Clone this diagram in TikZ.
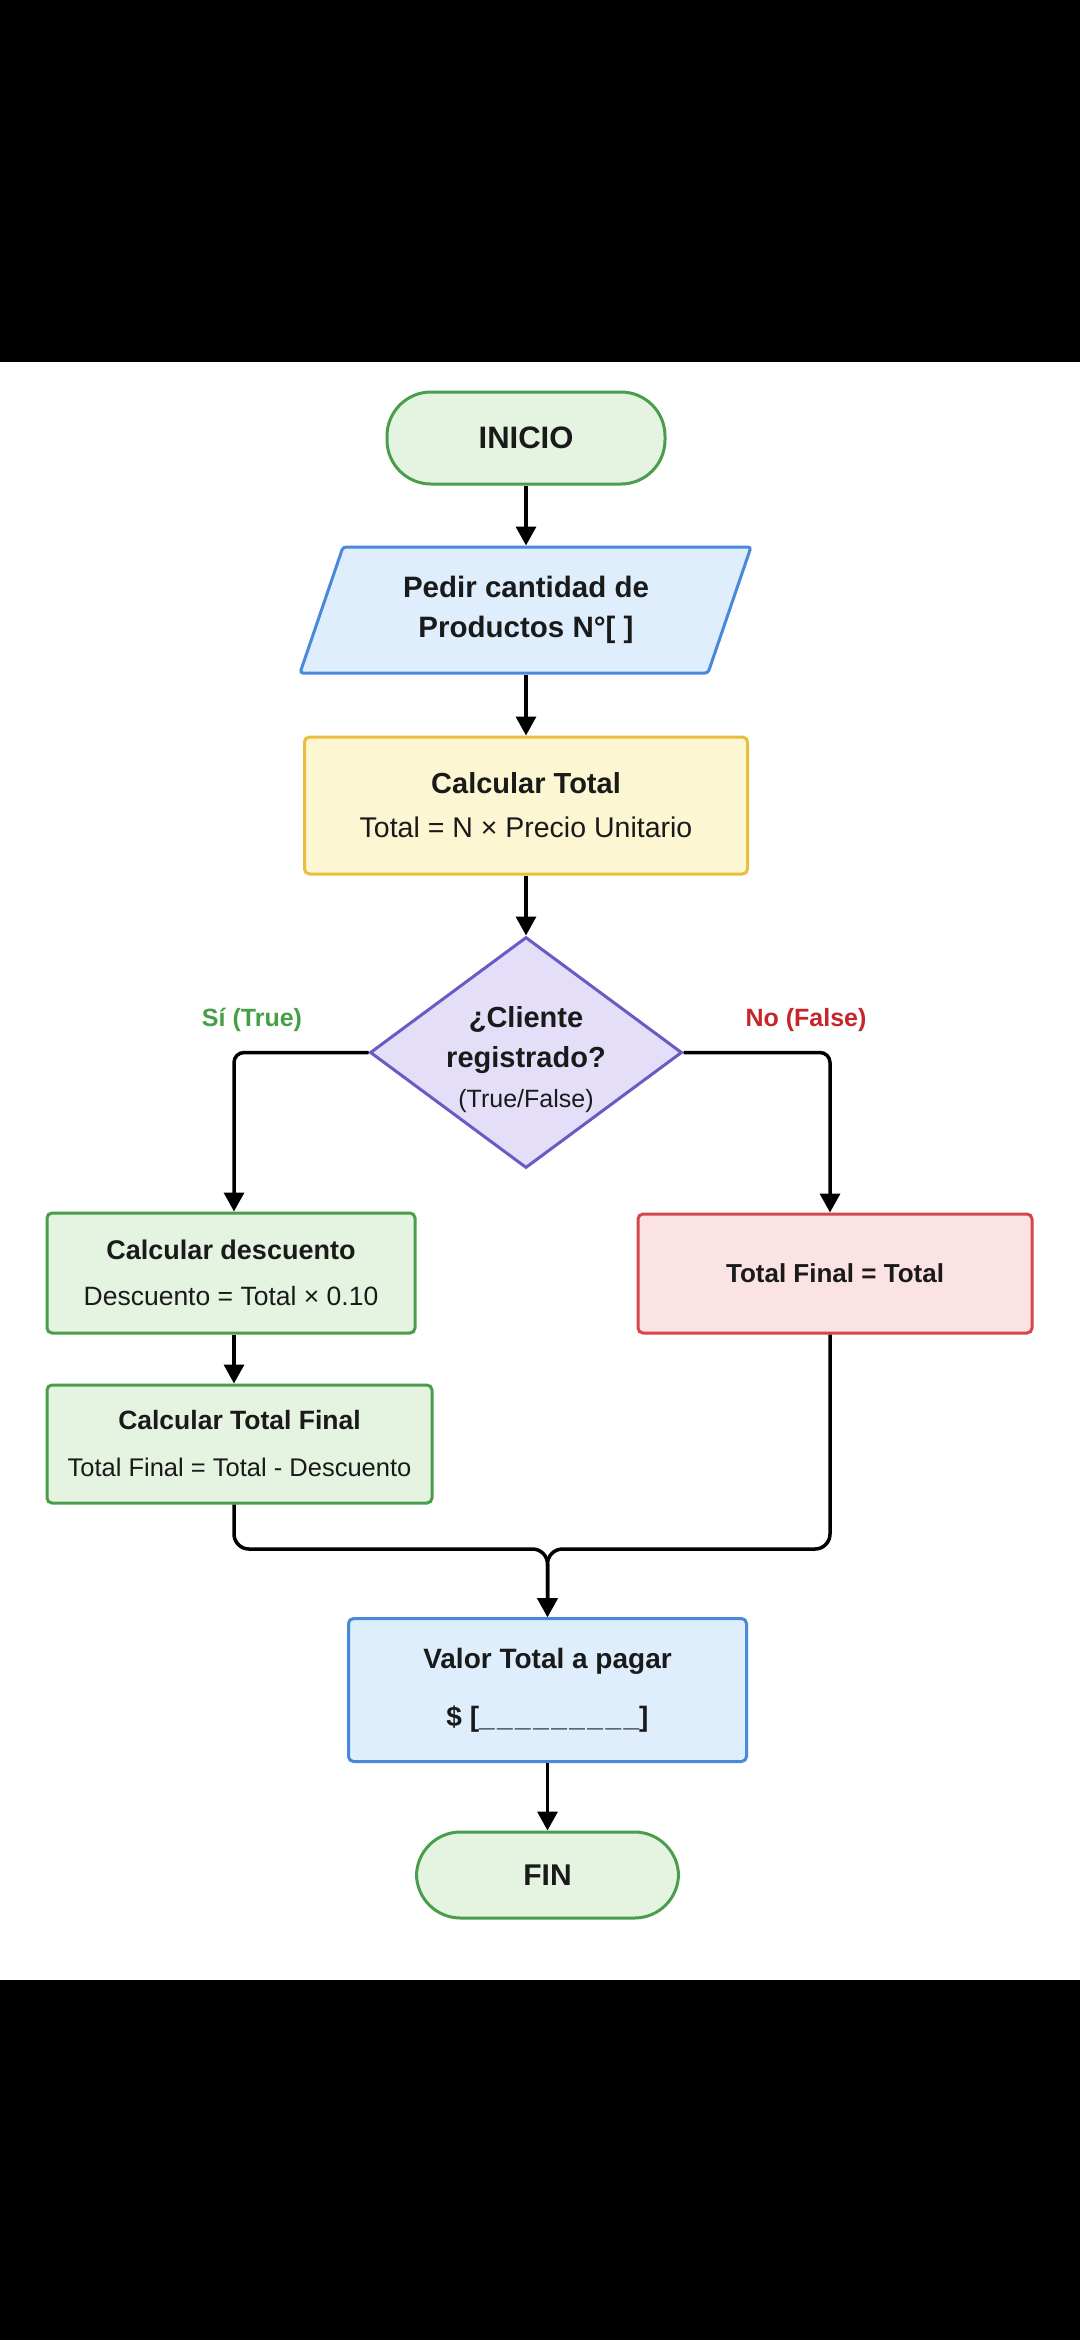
\documentclass[tikz,border=0pt]{standalone}
\usepackage{fontspec}
\setmainfont{Liberation Sans}
\usetikzlibrary{arrows.meta,shapes.geometric}
\definecolor{gline}{RGB}{74,157,74}
\definecolor{gfill}{RGB}{229,244,225}
\definecolor{bline}{RGB}{74,136,219}
\definecolor{bfill}{RGB}{222,238,253}
\definecolor{yline}{RGB}{233,190,60}
\definecolor{yfill}{RGB}{253,246,210}
\definecolor{pline}{RGB}{106,91,196}
\definecolor{pfill}{RGB}{228,222,248}
\definecolor{rline}{RGB}{214,69,75}
\definecolor{rfill}{RGB}{252,227,227}
\definecolor{sitxt}{RGB}{69,160,69}
\definecolor{notxt}{RGB}{200,37,43}
\definecolor{ink}{RGB}{26,26,26}
\newcommand{\fsz}[2]{\fontsize{#1}{#2}\selectfont}
\begin{document}
\begin{tikzpicture}[x=1pt,y=-1pt,
  term/.style={draw=gline,fill=gfill,line width=3pt,rectangle,rounded corners=44pt,
    text=ink,font=\bfseries\fsz{31}{36}},
  box/.style={rectangle,rounded corners=5pt,line width=3pt,text=ink,align=center,inner sep=0pt},
  conn/.style={line width=3.5pt,draw=black,-{Triangle[length=19pt,width=20pt]}},
  lbl/.style={font=\bfseries\fsz{25}{30},inner sep=0pt}
]
\useasboundingbox (0,0) rectangle (1080,2340);
\fill[black] (0,0) rectangle (1080,362);
\fill[white] (0,362) rectangle (1080,1980);
\fill[black] (0,1980) rectangle (1080,2340);

% start
\node[term,minimum width=278pt,minimum height=92pt] (ini) at (526,438) {INICIO};

% input parallelogram
\filldraw[draw=bline,fill=bfill,line width=3pt,rounded corners=3pt]
  (343,547) -- (751,547) -- (708,673) -- (300,673) -- cycle;
\node[box,minimum width=408pt,minimum height=126pt,font=\bfseries\fsz{29.5}{40}] (inp) at (526,610)
  {Pedir cantidad de\\Productos N°[ ]};

% calc total
\node[box,draw=yline,fill=yfill,minimum width=443pt,minimum height=137pt,font=\fsz{28.5}{44}] (calc) at (526,805.5)
  {{\bfseries\fsz{29}{44}Calcular Total}\\Total = N × Precio Unitario};

% decision
\node[diamond,draw=pline,fill=pfill,line width=3pt,minimum width=312pt,minimum height=231pt,inner sep=0pt] (dia) at (526,1052.5) {};
\node[align=center,text=ink,font=\fsz{25}{40},inner sep=0pt] (diat) at (526,1060)
  {{\bfseries\fsz{29}{40}¿Cliente}\\{\bfseries\fsz{29}{40}registrado?}\\(True/False)};

\node[lbl,text=sitxt] (si) at (252,1020) {Sí (True)};
\node[lbl,text=notxt] (no) at (806,1020) {No (False)};

\coordinate (colL) at (234,1052.5);
\coordinate (colR) at (830,1052.5);

% left branch
\node[box,draw=gline,fill=gfill,minimum width=368pt,minimum height=120pt,font=\fsz{26.5}{46}] (b1) at (231,1273)
  {{\bfseries\fsz{27}{46}Calcular descuento}\\Descuento = Total × 0.10};
\node[box,draw=gline,fill=gfill,minimum width=385pt,minimum height=118pt,font=\fsz{25.5}{47}] (b2) at (239.5,1444)
  {{\bfseries\fsz{26.5}{47}Calcular Total Final}\\Total Final = Total - Descuento};

% right branch
\node[box,draw=rline,fill=rfill,minimum width=394pt,minimum height=119pt,font=\bfseries\fsz{26}{30}] (rf) at (835,1273.5)
  {Total Final = Total};

\coordinate (m) at (547.5,1549);

% output
\node[box,draw=bline,fill=bfill,minimum width=398pt,minimum height=143pt,font=\bfseries\fsz{28}{58}] (vt) at (547.5,1690)
  {Valor Total a pagar\\\$ [\_\kern2.5pt\_\kern2.5pt\_\kern2.5pt\_\kern2.5pt\_\kern2.5pt\_\kern2.5pt\_\kern2.5pt\_\kern2.5pt\_]};

% end
\node[term,minimum width=262pt,minimum height=86pt,font=\bfseries\fsz{30}{36}] (fin) at (547.5,1875) {FIN};

% connectors
\draw[conn] (ini) -- (inp.north);
\draw[conn] (inp.south) -- (calc);
\draw[conn] (calc) -- (dia);
\draw[conn,rounded corners=10pt] (dia.west) -| (colL |- b1.north);
\draw[conn,rounded corners=10pt] (dia.east) -| (colR |- rf.north);
\draw[conn] (colL |- b1.south) -- (colL |- b2.north);
\draw[conn,rounded corners=15pt] (colL |- b2.south) |- (m) -- (m |- vt.north);
\draw[conn,rounded corners=15pt] (colR |- rf.south) |- (m) -- (m |- vt.north);
\draw[conn] (vt) -- (fin);
\end{tikzpicture}
\end{document}
